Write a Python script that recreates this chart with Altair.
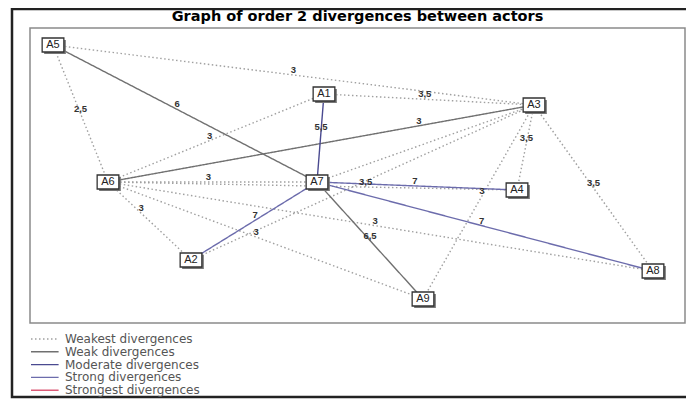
import altair as alt
import pandas as pd

# ---------------- data ----------------
node_names = ["A1", "A2", "A3", "A4", "A5", "A6", "A7", "A8", "A9"]
node_x = [294, 161, 504, 487, 23, 78, 287, 623, 393]
node_y = [66, 232, 77, 162, 17, 154, 154, 243, 271]

classes = ["Weakest divergences", "Weak divergences", "Moderate divergences",
           "Strong divergences", "Strongest divergences"]

edge_from = ["A5", "A5", "A6", "A1", "A7", "A2", "A3", "A3", "A3", "A6", "A6", "A6", "A6", "A6",
             "A5", "A6", "A7", "A1", "A7", "A7", "A7"]
edge_to = ["A3", "A6", "A1", "A3", "A3", "A3", "A4", "A9", "A8", "A7", "A2", "A4", "A8", "A9",
           "A7", "A3", "A9", "A7", "A2", "A4", "A8"]
edge_class = ["Weakest divergences"] * 14 + ["Weak divergences"] * 3 + \
             ["Moderate divergences"] + ["Strong divergences"] * 3
edge_label = ["3", "2,5", "3", "3,5", "", "", "3,5", "3", "3,5", "3", "3", "3,5", "3", "3",
              "6", "3", "6,5", "5,5", "7", "7", "7"]
edge_label_t = [0.5, 0.5, 0.47, 0.48, 0.5, 0.5, 0.45, 0.47, 0.5, 0.48, 0.4, 0.63, 0.49, 0.47,
                0.47, 0.73, 0.5, 0.43, 0.49, 0.49, 0.49]

title_text = "Graph of order 2 divergences between actors"

# ---------------- tables ----------------
pos = dict(zip(node_names, zip(node_x, node_y)))
nodes = pd.DataFrame({"actor": node_names, "x": node_x, "y": node_y})

edge_rows, label_rows = [], []
for i, (a, b, c, lab, t) in enumerate(zip(edge_from, edge_to, edge_class, edge_label, edge_label_t)):
    for k, n in enumerate((a, b)):
        edge_rows.append({"edge": i, "ord": k, "x": pos[n][0], "y": pos[n][1], "cls": c})
    if lab:
        label_rows.append({"x": pos[a][0] + t * (pos[b][0] - pos[a][0]),
                           "y": pos[a][1] + t * (pos[b][1] - pos[a][1]),
                           "label": lab})
edges = pd.DataFrame(edge_rows)
labels = pd.DataFrame(label_rows)

xs = alt.Scale(domain=[0, 655], nice=False, zero=False)
ys = alt.Scale(domain=[0, 295], nice=False, zero=False, reverse=True)
X = alt.X("x:Q", scale=xs, axis=None)
Y = alt.Y("y:Q", scale=ys, axis=None)

colors = ["#a0a0a0", "#707070", "#4a4a90", "#6c6cac", "#dc5c78"]
dashes = [[1.5, 2.5], [1, 0], [1, 0], [1, 0], [1, 0]]
widths = [1.4, 1.4, 1.4, 2.0, 2.6]

lines = alt.Chart(edges).mark_line().encode(
    x=X, y=Y, detail="edge:N", order="ord:Q",
    color=alt.Color("cls:N", scale=alt.Scale(domain=classes, range=colors), title=None),
    strokeDash=alt.StrokeDash("cls:N", scale=alt.Scale(domain=classes, range=dashes), title=None),
    strokeWidth=alt.StrokeWidth("cls:N", scale=alt.Scale(domain=classes, range=widths), title=None),
)

edge_text = alt.Chart(labels).mark_text(
    font="Liberation Sans", fontSize=9.5, fontWeight="bold", color="#333", dy=-5
).encode(x=X, y=Y, text="label:N")

box = "M-1.55,-1L1.55,-1L1.55,1L-1.55,1Z"
shadow = alt.Chart(nodes).mark_point(
    shape=box, size=196, filled=True, fill="#777", opacity=1, xOffset=2, yOffset=2, strokeWidth=0
).encode(x=X, y=Y)
boxes = alt.Chart(nodes).mark_point(
    shape=box, size=196, filled=True, fill="white", stroke="#333", strokeWidth=1.3, opacity=1
).encode(x=X, y=Y)
node_text = alt.Chart(nodes).mark_text(
    font="Liberation Sans", fontSize=11, color="#222"
).encode(x=X, y=Y, text="actor:N")

frame = alt.Chart(alt.Data(values=[{}])).mark_rect(
    fill="transparent", stroke="#222", strokeWidth=2.5
).encode(x=alt.value(-18), x2=alt.value(720), y=alt.value(-19), y2=alt.value(369))

chart = alt.layer(lines, edge_text, shadow, boxes, node_text, frame).properties(
    width=655, height=295,
    title=alt.Title(title_text, font="DejaVu Sans", fontSize=14.5, fontWeight="bold",
                    color="black", anchor="middle", offset=-28, baseline="alphabetic",
                    frame="group"),
    padding={"left": 22, "top": 20, "right": 1, "bottom": 77},
    autosize="none",
).configure_view(
    stroke="#8a8a8a", strokeWidth=1.5
).configure_legend(
    orient="none", legendX=0, legendY=305,
    symbolType="M-1,0L4.52,0", symbolSize=100,
    labelFont="DejaVu Sans", labelFontSize=12, labelColor="#555", labelOffset=23,
    rowPadding=0.8, padding=0
)

chart.save("out.html", embed_options={"renderer": "svg", "actions": False})
